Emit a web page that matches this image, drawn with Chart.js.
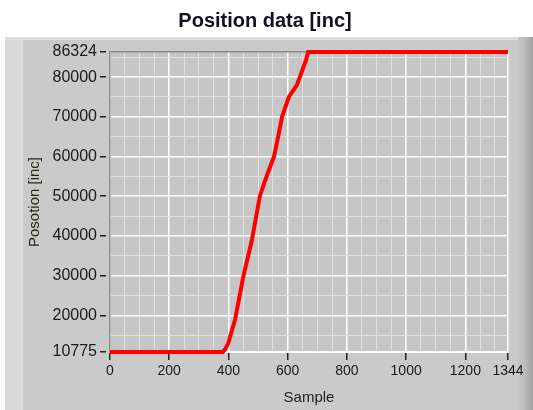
<!DOCTYPE html>
<html>
<head>
<meta charset="utf-8">
<title>Position data [inc]</title>
<script src="https://cdn.jsdelivr.net/npm/chart.js@4"></script>
<style>
  html, body { margin: 0; padding: 0; background: #ffffff; }
  #wrap { width: 533px; height: 410px; }
</style>
</head>
<body>
<div id="wrap"><canvas id="positionChart" width="533" height="410"></canvas></div>
<script>
// samples
const sampleIndex = [0, 381, 390, 399, 422, 450, 479, 506, 517, 535, 554, 568, 581, 604, 620, 631, 641, 662, 669, 680, 1344];
const positionInc = [10775, 10775, 11600, 12900, 18800, 29700, 38900, 50000, 52500, 56300, 60000, 65000, 70000, 75000, 76800, 78000, 80000, 84300, 86324, 86324, 86324];

const xTickLabels = [0, 200, 400, 600, 800, 1000, 1200, 1344];
const xMinorTicks = [50, 100, 150, 250, 300, 350, 450, 500, 550, 650, 700, 750, 850, 900, 950, 1050, 1100, 1150, 1250, 1300];
const yTickLabels = [10775, 20000, 30000, 40000, 50000, 60000, 70000, 80000, 86324];
const yMinorTicks = [15000, 25000, 35000, 45000, 55000, 65000, 75000, 85000];

const FONT = "'Liberation Sans', Arial, sans-serif";

// grey LabVIEW-like panel behind the graph
const panelBackground = {
    id: "panelBackground",
    beforeDraw(chart) {
        const { ctx, width, height, chartArea } = chart;
        ctx.save();
        ctx.fillStyle = "#ffffff";
        ctx.fillRect(0, 0, width, height);

        const top = 37;
        ctx.fillStyle = "#cacaca";
        ctx.fillRect(5, top, width - 5, height - top);
        // left bevel
        ctx.fillStyle = "#dadada";
        ctx.fillRect(5, top, 18, height - top);
        // top highlight
        ctx.fillStyle = "#dedede";
        ctx.fillRect(5, top, width - 5, 3);
        // right bevel
        const g = ctx.createLinearGradient(518, 0, width, 0);
        g.addColorStop(0, "#c6c6c6");
        g.addColorStop(0.4, "#bdbdbd");
        g.addColorStop(1, "#a2a2a2");
        ctx.fillStyle = g;
        ctx.fillRect(518, top, width - 518, height - top);

        // plot area
        ctx.fillStyle = "#c6c6c6";
        ctx.fillRect(chartArea.left, chartArea.top, chartArea.right - chartArea.left, chartArea.bottom - chartArea.top);
        ctx.restore();
    },
};

const allX = [...xTickLabels, ...xMinorTicks].sort((a, b) => a - b);
const allY = [...yTickLabels, ...yMinorTicks].sort((a, b) => a - b);

new Chart(document.getElementById("positionChart"), {
    type: "line",
    data: {
        datasets: [
            {
                label: "Position",
                data: sampleIndex.map((s, i) => ({ x: s, y: positionInc[i] })),
                borderColor: "#ff0000",
                borderWidth: 4,
                pointRadius: 0,
                tension: 0,
                clip: false,
            },
        ],
    },
    options: {
        responsive: false,
        devicePixelRatio: 1,
        animation: false,
        layout: { padding: { left: 22, right: 25, top: 0, bottom: 1 } },
        plugins: {
            legend: { display: false },
            tooltip: { enabled: false },
            title: {
                display: true,
                text: "Position data [inc]",
                color: "#101020",
                font: { family: FONT, size: 20, weight: "bold" },
                padding: { top: 9, bottom: 19 },
            },
        },
        scales: {
            x: {
                type: "linear",
                min: 0,
                max: 1344,
                afterBuildTicks: (s) => { s.ticks = allX.map((v) => ({ value: v })); },
                afterFit: (s) => { s.height = 57; },
                ticks: {
                    autoSkip: false,
                    maxRotation: 0,
                    padding: 3,
                    color: "#1a1a1a",
                    font: { family: FONT, size: 14 },
                    callback: (v) => (xTickLabels.includes(v) ? String(v) : ""),
                },
                grid: {
                    color: (c) => (xTickLabels.includes(c.tick.value) ? "#ffffff" : "#e0e0e0"),
                    lineWidth: (c) => (xTickLabels.includes(c.tick.value) ? 1.5 : 1),
                    tickLength: 8,
                    tickWidth: 1.5,
                    tickColor: (c) => (xTickLabels.includes(c.tick.value) ? "#222222" : "rgba(0,0,0,0)"),
                },
                border: { color: "#ffffff", width: 1 },
                title: {
                    display: true,
                    text: "Sample",
                    color: "#222222",
                    font: { family: FONT, size: 15 },
                    padding: { top: 2, bottom: 2 },
                },
            },
            y: {
                type: "linear",
                min: 10775,
                max: 86324,
                afterBuildTicks: (s) => { s.ticks = allY.map((v) => ({ value: v })); },
                afterFit: (s) => { s.width = 88; },
                ticks: {
                    autoSkip: false,
                    padding: 3,
                    color: "#1a1a1a",
                    font: { family: FONT, size: 16 },
                    callback: (v) => (yTickLabels.includes(v) ? String(v) : ""),
                },
                grid: {
                    color: (c) => {
                        if (c.tick.value === 86324) return "#8a8a8a";
                        return yTickLabels.includes(c.tick.value) ? "#ffffff" : "#e0e0e0";
                    },
                    lineWidth: (c) => (yTickLabels.includes(c.tick.value) ? 1.5 : 1),
                    tickLength: 10,
                    tickWidth: 1.5,
                    tickBorderDash: [6, 4],
                    tickColor: (c) => (yTickLabels.includes(c.tick.value) ? "#222222" : "rgba(0,0,0,0)"),
                },
                border: { color: "#8e8e8e", width: 1.5 },
                title: {
                    display: true,
                    text: "Posotion [inc]",
                    color: "#2a2418",
                    font: { family: FONT, size: 15 },
                    padding: { top: 4, bottom: 4 },
                },
            },
        },
    },
    plugins: [panelBackground],
});
</script>
</body>
</html>
